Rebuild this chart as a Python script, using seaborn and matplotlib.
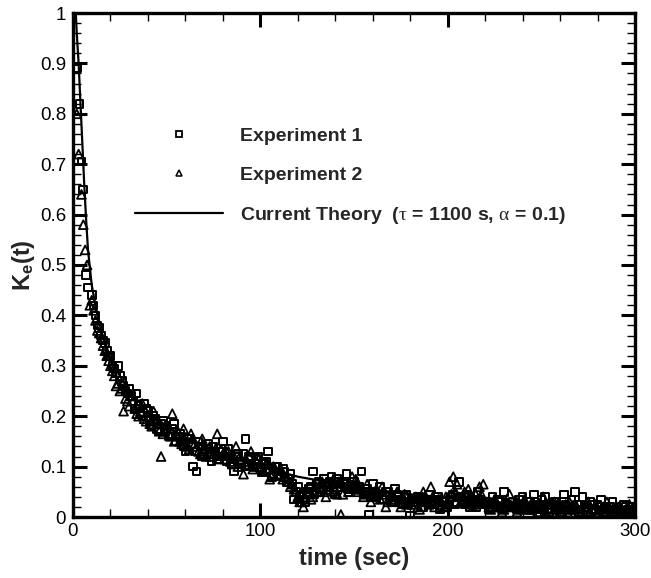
import matplotlib
matplotlib.use("Agg")
import matplotlib.pyplot as plt
from matplotlib.lines import Line2D
from matplotlib.ticker import MultipleLocator, FuncFormatter
import seaborn as sns
import pandas as pd

# ---------------- data ----------------
# Experiment 1 (squares)
time1 = [2, 3.5, 4.5, 5.5, 7, 8,
         10, 12, 14, 16, 18, 20, 22, 24, 26, 28,
         30, 32, 34, 36, 38, 40, 42, 44, 46, 48,
         50, 52, 54, 56, 58, 60, 62, 64, 66, 68,
         70, 72, 74, 76, 78, 80, 82, 84, 86, 88,
         90, 92, 94, 96, 98, 100, 102, 104, 106, 108,
         110, 112, 114, 116, 118, 120, 122, 124, 126, 128,
         130, 132, 134, 136, 138, 140, 142, 144, 146, 148,
         150, 152, 154, 156, 158, 160, 162, 164, 166, 168,
         170, 172, 174, 176, 178, 180, 182, 184, 186, 188,
         190, 192, 194, 196, 198, 200, 202, 204, 206, 208,
         210, 212, 214, 216, 218, 220, 222, 224, 226, 228,
         230, 232, 234, 236, 238, 240, 242, 244, 246, 248,
         250, 252, 254, 256, 258, 260, 262, 264, 266, 268,
         270, 272, 274, 276, 278, 280, 282, 284, 286, 288,
         290, 292, 294, 296, 298, 300]
k1 = [0.89, 0.82, 0.705, 0.65, 0.48, 0.455,
      0.44, 0.40, 0.375, 0.35, 0.33, 0.32, 0.295, 0.30, 0.27, 0.25,
      0.255, 0.23, 0.245, 0.205, 0.225, 0.21, 0.18, 0.195, 0.17, 0.19,
      0.175, 0.165, 0.185, 0.16, 0.15, 0.13, 0.155, 0.10, 0.09, 0.14,
      0.125, 0.145, 0.11, 0.13, 0.12, 0.15, 0.11, 0.115, 0.09, 0.125,
      0.105, 0.155, 0.12, 0.10, 0.115, 0.095, 0.105, 0.13, 0.08, 0.10,
      0.09, 0.095, 0.07, 0.085, 0.035, 0.06, 0.045, 0.03, 0.055, 0.09,
      0.065, 0.05, 0.075, 0.06, 0.08, 0.045, 0.07, 0.065, 0.085, 0.055,
      0.07, 0.06, 0.09, 0.05, 0.005, 0.065, 0.04, 0.06, 0.035, 0.05,
      0.03, 0.055, 0.04, 0.025, 0.045, 0.002, 0.035, 0.04, 0.02, 0.03,
      0.045, 0.025, 0.035, 0.015, 0.03, 0.02, 0.04, 0.025, 0.07, 0.03,
      0.045, 0.02, 0.035, 0.05, 0.025, 0.03, 0.015, 0.04, 0.02, 0.03,
      0.05, 0.025, 0.02, 0.02, 0.035, 0.04, 0.015, 0.03, 0.045, 0.02,
      0.035, 0.04, 0.01, 0.025, 0.03, 0.015, 0.045, 0.02, 0.035, 0.05,
      0.01, 0.04, 0.02, 0.03, 0.015, 0.025, 0.035, 0.01, 0.02, 0.03,
      0.015, 0.005, 0.025, 0.015, 0.02, 0.01]
time1b = [11, 13, 15, 17, 19, 21, 23, 25, 27, 29,
          31, 33, 35, 37, 39, 41, 43, 45, 47, 49,
          51, 53, 55, 57, 59, 61, 63, 65, 67, 69,
          71, 73, 75, 77, 79, 81, 83, 85, 87, 89,
          91, 93, 95, 97, 99, 101, 103, 105, 107, 109,
          111, 113, 115, 117, 119, 121, 123, 125, 127, 129,
          131, 133, 135, 137, 139, 141, 143, 145, 147, 149,
          151, 153, 155, 157, 159, 161, 163, 165, 167, 169,
          171, 173, 175, 177, 179, 181, 183, 185, 187, 189,
          191, 193, 195, 197, 199, 201, 203, 205, 207, 209,
          211, 213, 215, 217, 219, 221, 223, 225, 227, 229,
          231, 233, 235, 237, 239, 241, 243, 245, 247, 249,
          251, 253, 255, 257, 259, 261, 263, 265, 267, 269,
          271, 273, 275, 277, 279, 281, 283, 285, 287, 289,
          291, 293, 295, 297, 299]
k1b = [0.42, 0.38, 0.36, 0.345, 0.32, 0.30, 0.285, 0.28, 0.26, 0.245,
       0.24, 0.215, 0.22, 0.20, 0.215, 0.19, 0.20, 0.175, 0.185, 0.17,
       0.16, 0.175, 0.15, 0.165, 0.14, 0.155, 0.145, 0.13, 0.15, 0.12,
       0.135, 0.125, 0.14, 0.115, 0.13, 0.12, 0.135, 0.105, 0.12, 0.11,
       0.125, 0.10, 0.115, 0.105, 0.12, 0.09, 0.11, 0.095, 0.085, 0.10,
       0.08, 0.09, 0.075, 0.065, 0.05, 0.04, 0.035, 0.05, 0.06, 0.045,
       0.07, 0.055, 0.065, 0.07, 0.05, 0.075, 0.06, 0.065, 0.05, 0.07,
       0.055, 0.06, 0.045, 0.055, 0.04, 0.05, 0.045, 0.035, 0.05, 0.04,
       0.03, 0.045, 0.035, 0.04, 0.025, 0.035, 0.03, 0.04, 0.02, 0.035,
       0.03, 0.025, 0.04, 0.03, 0.02, 0.035, 0.045, 0.03, 0.04, 0.025,
       0.04, 0.03, 0.02, 0.035, 0.025, 0.03, 0.02, 0.025, 0.035, 0.015,
       0.025, 0.02, 0.03, 0.015, 0.025, 0.02, 0.03, 0.02, 0.025, 0.015,
       0.02, 0.025, 0.015, 0.03, 0.02, 0.01, 0.025, 0.015, 0.02, 0.025,
       0.015, 0.02, 0.01, 0.025, 0.015, 0.02, 0.01, 0.015, 0.02, 0.01,
       0.015, 0.01, 0.02, 0.01, 0.015]

# Experiment 2 (triangles)
time2 = [2, 3, 4.5, 5.5, 6.5, 7.5, 9,
         11, 13, 15, 17, 19, 21, 23, 25, 27, 29,
         31, 33, 35, 37, 39, 41, 43, 45, 47, 49,
         51, 53, 55, 57, 59, 61, 63, 65, 67, 69,
         71, 73, 75, 77, 79, 81, 83, 85, 87, 89,
         91, 93, 95, 97, 99, 101, 103, 105, 107, 109,
         111, 113, 115, 117, 119, 121, 123, 125, 127, 129,
         131, 133, 135, 137, 139, 141, 143, 145, 147, 149,
         151, 153, 155, 157, 159, 161, 163, 165, 167, 169,
         171, 173, 175, 177, 179, 181, 183, 185, 187, 189,
         191, 193, 195, 197, 199, 201, 203, 205, 207, 209,
         211, 213, 215, 217, 219, 221, 223, 225, 227, 229,
         231, 233, 235, 237, 239, 241, 243, 245, 247, 249,
         251, 253, 255, 257, 259, 261, 263, 265, 267, 269,
         271, 273, 275, 277, 279, 281, 283, 285, 287, 289,
         291, 293, 295, 297, 299]
k2 = [0.80, 0.72, 0.64, 0.58, 0.53, 0.50, 0.42,
      0.41, 0.37, 0.355, 0.33, 0.31, 0.29, 0.26, 0.25, 0.21, 0.23,
      0.24, 0.215, 0.20, 0.225, 0.19, 0.185, 0.21, 0.195, 0.12, 0.17,
      0.18, 0.205, 0.165, 0.15, 0.175, 0.14, 0.165, 0.145, 0.13, 0.155,
      0.12, 0.14, 0.125, 0.165, 0.135, 0.115, 0.13, 0.105, 0.14, 0.12,
      0.085, 0.11, 0.13, 0.10, 0.115, 0.09, 0.105, 0.075, 0.10, 0.085,
      0.095, 0.08, 0.07, 0.065, 0.05, 0.03, 0.02, 0.045, 0.035, 0.06,
      0.05, 0.07, 0.04, 0.055, 0.075, 0.045, 0.005, 0.06, 0.05, 0.08,
      0.075, 0.055, 0.04, 0.065, 0.03, 0.05, 0.045, 0.06, 0.02, 0.04,
      0.035, 0.05, 0.02, 0.045, 0.03, 0.025, 0.04, 0.015, 0.05, 0.03,
      0.06, 0.02, 0.035, 0.025, 0.04, 0.07, 0.08, 0.065, 0.03, 0.05,
      0.055, 0.025, 0.045, 0.06, 0.065, 0.03, 0.015, 0.035, 0.02, 0.01,
      0.03, 0.045, 0.02, 0.01, 0.025, 0.035, 0.015, 0.03, 0.02, 0.01,
      0.04, 0.025, 0.015, 0.03, 0.02, 0.01, 0.025, 0.03, 0.015, 0.02,
      0.005, 0.02, 0.03, 0.015, 0.025, 0.01, 0.02, 0.03, 0.015, 0.005,
      0.02, 0.01, 0.015, 0.025, 0.02]
time2b = [10, 12, 14, 16, 18, 20, 22, 24, 26, 28,
          30, 32, 34, 36, 38, 40, 42, 44, 46, 48,
          50, 52, 54, 56, 58, 60, 62, 64, 66, 68,
          70, 72, 74, 76, 78, 80, 82, 84, 86, 88,
          90, 92, 94, 96, 98, 100, 102, 104, 106, 108,
          110, 112, 114, 116, 118, 120, 122, 124, 126, 128,
          130, 132, 134, 136, 138, 140, 142, 144, 146, 148,
          150, 152, 154, 156, 158, 160, 162, 164, 166, 168,
          170, 172, 174, 176, 178, 180, 182, 184, 186, 188,
          190, 192, 194, 196, 198, 200, 202, 204, 206, 208,
          210, 212, 214, 216, 218, 220, 222, 224, 226, 228,
          230, 232, 234, 236, 238, 240, 242, 244, 246, 248,
          250, 252, 254, 256, 258, 260, 262, 264, 266, 268,
          270, 272, 274, 276, 278, 280, 282, 284, 286, 288,
          290, 292, 294, 296, 298, 300]
k2b = [0.43, 0.39, 0.365, 0.34, 0.32, 0.30, 0.28, 0.265, 0.255, 0.235,
       0.22, 0.23, 0.205, 0.21, 0.195, 0.20, 0.18, 0.19, 0.17, 0.165,
       0.175, 0.16, 0.15, 0.17, 0.145, 0.15, 0.135, 0.155, 0.14, 0.125,
       0.14, 0.13, 0.12, 0.135, 0.115, 0.125, 0.13, 0.11, 0.12, 0.10,
       0.115, 0.105, 0.12, 0.095, 0.11, 0.10, 0.09, 0.105, 0.08, 0.095,
       0.085, 0.075, 0.08, 0.06, 0.055, 0.04, 0.03, 0.04, 0.05, 0.04,
       0.06, 0.065, 0.05, 0.06, 0.065, 0.055, 0.07, 0.045, 0.06, 0.065,
       0.06, 0.05, 0.055, 0.045, 0.05, 0.04, 0.055, 0.035, 0.045, 0.03,
       0.04, 0.035, 0.03, 0.04, 0.025, 0.035, 0.03, 0.02, 0.035, 0.03,
       0.025, 0.04, 0.03, 0.035, 0.02, 0.03, 0.045, 0.05, 0.04, 0.035,
       0.03, 0.04, 0.025, 0.035, 0.045, 0.03, 0.02, 0.025, 0.03, 0.02,
       0.015, 0.025, 0.02, 0.03, 0.015, 0.02, 0.025, 0.015, 0.02, 0.01,
       0.02, 0.015, 0.025, 0.01, 0.02, 0.015, 0.02, 0.01, 0.015, 0.02,
       0.01, 0.015, 0.02, 0.01, 0.015, 0.005, 0.015, 0.01, 0.02, 0.01,
       0.015, 0.005, 0.01, 0.015, 0.01, 0.005]

# Current theory curve
time_theory = [1.5, 2, 3, 4, 5, 6, 7, 8, 10, 12, 15, 20, 25, 30, 40, 50,
               60, 70, 80, 100, 120, 150, 180, 210, 240, 270, 300]
k_theory = [1.0, 0.96, 0.9, 0.82, 0.74, 0.66, 0.59, 0.53, 0.46, 0.42, 0.37,
            0.315, 0.28, 0.25, 0.21, 0.18, 0.155, 0.14, 0.125, 0.1, 0.08,
            0.06, 0.045, 0.035, 0.025, 0.018, 0.012]

labels = ["Experiment 1", "Experiment 2",
          r"Current Theory  ($\mathrm{\tau}$ = 1100 s, $\mathrm{\alpha}$ = 0.1)"]

df1 = pd.DataFrame({"t": time1 + time1b, "k": k1 + k1b})
df2 = pd.DataFrame({"t": time2 + time2b, "k": k2 + k2b})
dft = pd.DataFrame({"t": time_theory, "k": k_theory})

# ---------------- style ----------------
sns.set_style("ticks")
plt.rcParams["font.family"] = ["Liberation Sans", "DejaVu Sans"]
plt.rcParams["mathtext.fontset"] = "custom"
plt.rcParams["mathtext.rm"] = "Liberation Serif"
plt.rcParams["mathtext.it"] = "Liberation Serif:italic"
plt.rcParams["mathtext.bf"] = "Liberation Sans:bold"

fig = plt.figure(figsize=(6.51, 5.78), dpi=100)
ax = fig.add_axes([73 / 651, 61 / 578, 562 / 651, 504 / 578])

sns.lineplot(data=dft, x="t", y="k", ax=ax, color="black", linewidth=1.6,
             estimator=None, sort=False, zorder=3)
sns.scatterplot(data=df1, x="t", y="k", ax=ax, marker="s", s=30,
                facecolor="none", edgecolor="black", linewidth=1.4, zorder=2)
sns.scatterplot(data=df2, x="t", y="k", ax=ax, marker="^", s=40,
                facecolor="none", edgecolor="black", linewidth=1.3, zorder=2)

ax.set_xlim(0, 300)
ax.set_ylim(0, 1)
ax.xaxis.set_major_locator(MultipleLocator(100))
ax.xaxis.set_minor_locator(MultipleLocator(20))
ax.yaxis.set_major_locator(MultipleLocator(0.1))
ax.yaxis.set_minor_locator(MultipleLocator(0.02))
ax.yaxis.set_major_formatter(FuncFormatter(lambda v, p: f"{v:g}"))
ax.xaxis.set_major_formatter(FuncFormatter(lambda v, p: f"{v:g}"))

ax.tick_params(which="both", direction="in", top=True, right=True,
               labelsize=13.5, colors="black")
ax.tick_params(axis="y", which="both", pad=5)
ax.tick_params(axis="x", which="both", pad=4)
ax.tick_params(which="major", length=10, width=2.2)
ax.tick_params(which="minor", length=6, width=1.0)
for sp in ax.spines.values():
    sp.set_linewidth(2.4)
    sp.set_color("black")

ax.set_xlabel("time (sec)", fontsize=17, fontweight="bold", labelpad=5)
ax.set_ylabel(r"$\mathbf{K_e(t)}$", fontsize=17, labelpad=2)

handles = [
    Line2D([], [], linestyle="none", marker="s", markersize=4.5,
           markerfacecolor="none", markeredgecolor="black", markeredgewidth=1.3),
    Line2D([], [], linestyle="none", marker="^", markersize=5.0,
           markerfacecolor="none", markeredgecolor="black", markeredgewidth=1.1),
    Line2D([], [], color="black", linewidth=1.6),
]
leg = ax.legend(handles, labels, loc="upper left", bbox_to_anchor=(0.110, 0.773),
                frameon=False, borderpad=0, borderaxespad=0, handlelength=4.55,
                handletextpad=0.85, labelspacing=1.08, numpoints=1,
                prop={"weight": "bold", "size": 14})

fig.savefig("out.png", dpi=100)
